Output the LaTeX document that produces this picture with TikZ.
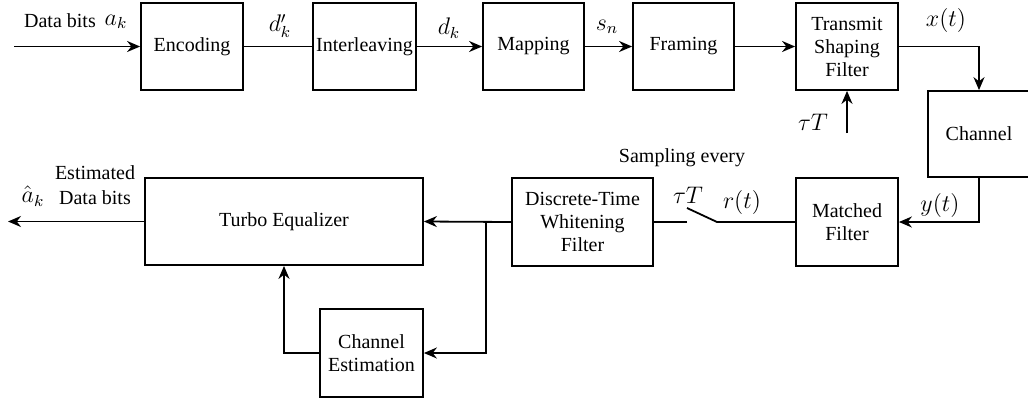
\documentclass[tikz,border=0pt]{standalone}
\usepackage{fontspec}
\setmainfont{Liberation Serif}
\usetikzlibrary{arrows.meta}
\begin{document}
\begin{tikzpicture}[x=0.5pt,y=-0.5pt,
  blk/.style={draw,line width=0.9pt,inner sep=0pt,align=center,font=\fontsize{10}{11.5}\selectfont},
  lbl/.style={inner sep=0pt,font=\fontsize{10}{11.5}\selectfont,align=center},
  mlbl/.style={inner sep=0pt,font=\fontsize{12}{14}\selectfont},
  conn/.style={line width=0.9pt},
  arr/.style={line width=0.9pt,-{Stealth[length=6.5pt,width=5.5pt]}}]
\useasboundingbox (0,0) rectangle (1028,403);
% top row
\node[blk,minimum width=51pt,minimum height=43.5pt] (enc) at (192,46.5) {Encoding};
\node[blk,minimum width=51.5pt,minimum height=43.5pt] (inter) at (364.5,46.5) {Interleaving};
\node[blk,minimum width=50.5pt,minimum height=43.5pt] (map) at (533.5,46.5) {Mapping};
\node[blk,minimum width=50.5pt,minimum height=43.5pt] (fram) at (683.5,46.5) {Framing};
\node[blk,minimum width=51pt,minimum height=43.5pt] (tsf) at (847,46.5) {Transmit\\Shaping\\Filter};
\node[blk,minimum width=51pt,minimum height=43pt] (chan) at (979,134) {Channel};
% bottom row
\node[blk,minimum width=51pt,minimum height=44pt] (mf) at (847,222) {Matched\\Filter};
\node[blk,minimum width=70.5pt,minimum height=44pt] (dtwf) at (582.5,222) {Discrete-Time\\Whitening\\Filter};
\node[blk,minimum width=139pt,minimum height=43.5pt] (te) at (284,221.5) {Turbo Equalizer};
\node[blk,minimum width=51.5pt,minimum height=44pt] (ce) at (371.5,353) {Channel\\Estimation};
% coordinates
\coordinate (in) at (14,46.5);
\coordinate (out) at (8,221.5);
\coordinate (tau) at (847,133);
\coordinate (swA) at (717,222);
\coordinate (swB) at (687,208);
\coordinate (swC) at (687,222);
\coordinate (br) at (486,221.5);
% connectors
\draw[arr] (in) -- (enc.west);
\draw[conn] (enc.east) -- (inter.west);
\draw[arr] (inter.east) -- (map.west);
\draw[arr] (map.east) -- (fram.west);
\draw[arr] (fram.east) -- (tsf.west);
\draw[arr] (tsf.east) -| (chan.north);
\draw[arr] (tau) -- (tsf.south);
\draw[arr] (chan.south) |- (mf.east);
\draw[conn] (mf.west) -- (swA) -- (swB);
\draw[conn] (swC) -- (dtwf.east);
\draw[arr] (dtwf.west) -- (te.east);
\draw[arr] (br) |- (ce.east);
\draw[arr] (ce.west) -| (te.south);
\draw[arr] (te.west) -- (out);
% labels
\node[lbl] (l1) at (60,21) {Data bits};
\node[mlbl] (l1m) at (116,22) {$a_k$};
\node[mlbl] (l2) at (280,26) {$d'_k$};
\node[mlbl] (l3) at (449,28) {$d_k$};
\node[mlbl] (l4) at (607,27) {$s_n$};
\node[mlbl] (l5) at (946,20) {$x(t)$};
\node[mlbl] (l6) at (813,122) {$\tau T$};
\node[lbl] (l7) at (682,158) {Sampling every};
\node[mlbl] (l8) at (688,195) {$\tau T$};
\node[mlbl] (l9) at (742,202) {$r(t)$};
\node[mlbl] (l10) at (940,205) {$y(t)$};
\node[lbl] (l11) at (95,173) {Estimated};
\node[lbl] (l12) at (95,198) {Data bits};
\node[mlbl] (l13) at (33,196) {$\hat{a}_k$};
\end{tikzpicture}
\end{document}
